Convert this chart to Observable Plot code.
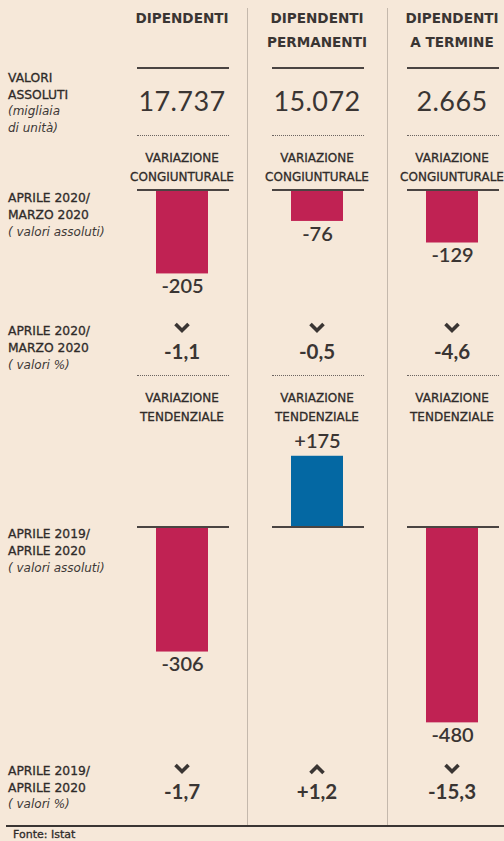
<!DOCTYPE html>
<html><head><meta charset="utf-8">
<script src="https://cdn.jsdelivr.net/npm/d3@7"></script>
<script src="https://cdn.jsdelivr.net/npm/@observablehq/plot@0.6"></script>
<style>
html,body{margin:0;padding:0;background:#f6e8d9;}
#page{position:relative;width:504px;height:841px;background:#f6e8d9;overflow:hidden;font-family:Lato, "Open Sans", sans-serif;color:#363230;}
.t{position:absolute;white-space:nowrap;line-height:1;}
.c{transform:translate(-50%,-50%);}
.l{transform:translateY(-50%);}
.hr{position:absolute;}
</style>
</head><body>
<div id="page"></div>
<script>
// ---- data ----
const categories = ["DIPENDENTI", "DIPENDENTI PERMANENTI", "DIPENDENTI A TERMINE"];
const headerLines = [["DIPENDENTI"], ["DIPENDENTI", "PERMANENTI"], ["DIPENDENTI", "A TERMINE"]];
const absoluteValues = ["17.737", "15.072", "2.665"];
const congiunturaleAbs = [-205, -76, -129];
const congiunturalePct = [-1.1, -0.5, -4.6];
const tendenzialeAbs = [-306, 175, -480];
const tendenzialePct = [-1.7, 1.2, -15.3];
const rowLabels = {
  valori: ["VALORI", "ASSOLUTI", "(migliaia", "di unità)"],
  congAbs: ["APRILE 2020/", "MARZO 2020", "( valori assoluti)"],
  congPct: ["APRILE 2020/", "MARZO 2020", "( valori %)"],
  tendAbs: ["APRILE 2019/", "APRILE 2020", "( valori assoluti)"],
  tendPct: ["APRILE 2019/", "APRILE 2020", "( valori %)"]
};
const sectionTitles = {cong: ["VARIAZIONE", "CONGIUNTURALE"], tend: ["VARIAZIONE", "TENDENZIALE"]};
const source = "Fonte: Istat";

// ---- layout helpers ----
const page = document.getElementById("page");
const RED = "#c02253", BLUE = "#0468a3";
const xBand = {type: "band", domain: categories, range: [114.5, 519.5], paddingInner: 0.615, paddingOuter: 0.3075, align: 0.5};
const xs = d3.scaleBand().domain(categories).range(xBand.range).paddingInner(xBand.paddingInner).paddingOuter(xBand.paddingOuter).align(0.5);
const cx = c => xs(c) + xs.bandwidth() / 2;

function txt(x, y, s, style, cls = "c") {
  const d = document.createElement("div");
  d.className = "t " + cls;
  d.textContent = s;
  d.style.left = x + "px"; d.style.top = y + "px";
  Object.assign(d.style, style || {});
  page.appendChild(d);
  return d;
}
function line(x1, x2, y, style) {
  const d = document.createElement("div");
  d.className = "hr";
  d.style.left = x1 + "px"; d.style.top = y + "px"; d.style.width = (x2 - x1) + "px";
  Object.assign(d.style, style);
  page.appendChild(d);
}
const SANS = "'DejaVu Sans', Verdana, sans-serif";
const labStyle = {fontFamily: SANS, fontSize: "12.3px", fontWeight: "400", color: "#2f2b29", WebkitTextStroke: "0.3px #2f2b29"};
const labItal = {fontFamily: SANS, fontSize: "12px", fontStyle: "italic", fontWeight: "400", color: "#3d3836"};
function rowLabel(lines, yFirst, step) {
  lines.forEach((s, i) => txt(8, yFirst + i * step, s, s.startsWith("(") || s.startsWith("di ") ? labItal : labStyle, "l"));
}

// vertical separators
[247, 387].forEach(x => {
  const d = document.createElement("div");
  d.className = "hr";
  Object.assign(d.style, {left: x + "px", top: "8px", width: "1px", height: "818px", background: "#c4b8ac"});
  page.appendChild(d);
});

const headStyle = {fontFamily: SANS, fontSize: "13.6px", fontWeight: "700", color: "#3a3533"};
const secStyle = {fontFamily: SANS, fontSize: "12px", fontWeight: "400", color: "#2f2b29", WebkitTextStroke: "0.3px #2f2b29"};
// headers
categories.forEach((c, i) => {
  headerLines[i].forEach((s, j) => txt(cx(c), 19 + j * 23.5, s, headStyle));
  line(cx(c) - 45, cx(c) + 47, 67, {borderTop: "2px solid #4a4442"});
  txt(cx(c), 100, absoluteValues[i], {fontSize: "27px", fontWeight: "400", letterSpacing: "0.4px", color: "#3a3533"});
  line(cx(c) - 45, cx(c) + 47, 135, {borderTop: "1px dotted #6b6461"});
  sectionTitles.cong.forEach((s, j) => txt(cx(c), 158 + j * 19, s, secStyle));
  line(cx(c) - 45, cx(c) + 47, 375, {borderTop: "1px dotted #6b6461"});
  sectionTitles.tend.forEach((s, j) => txt(cx(c), 398 + j * 19, s, secStyle));
});
rowLabel(rowLabels.valori, 78, 16.5);
rowLabel(rowLabels.congAbs, 198, 17);
rowLabel(rowLabels.congPct, 331, 17);
rowLabel(rowLabels.tendAbs, 534, 17);
rowLabel(rowLabels.tendPct, 771, 16.5);

// percent rows with chevrons
const fmtPct = v => (v > 0 ? "+" : "") + d3.format(".1f")(v).replace("−", "-").replace(".", ",");
function chevron(x, y, up) {
  const ns = "http://www.w3.org/2000/svg";
  const s = document.createElementNS(ns, "svg");
  s.setAttribute("width", 18); s.setAttribute("height", 12);
  Object.assign(s.style, {position: "absolute", left: (x - 9) + "px", top: (y - 6) + "px"});
  const p = document.createElementNS(ns, "polyline");
  p.setAttribute("points", up ? "2.5,10 9,3.5 15.5,10" : "2.5,2 9,8.5 15.5,2");
  p.setAttribute("fill", "none"); p.setAttribute("stroke", "#3a3533");
  p.setAttribute("stroke-width", "3.6"); p.setAttribute("stroke-linejoin", "miter");
  s.appendChild(p);
  page.appendChild(s);
}
categories.forEach((c, i) => {
  chevron(cx(c), 328, congiunturalePct[i] > 0);
  txt(cx(c), 351, fmtPct(congiunturalePct[i]), {fontSize: "20.5px", fontWeight: "700", color: "#3a3533"});
  chevron(cx(c), 769, tendenzialePct[i] > 0);
  txt(cx(c), 791, fmtPct(tendenzialePct[i]), {fontSize: "20.5px", fontWeight: "700", color: "#3a3533"});
});

// ---- bar sections with Plot ----
const K = 0.407; // px per unit
function barSection(values, top, height, baseline) {
  const data = categories.map((c, i) => ({cat: c, value: values[i]}));
  const fmt = v => (v > 0 ? "+" : "") + v;
  const plot = Plot.plot({
    width: 504, height, margin: 0,
    style: {background: "transparent", overflow: "visible"},
    x: {...xBand, axis: null},
    y: {domain: [-(height - baseline) / K, baseline / K], range: [height, 0], axis: null},
    marks: [
      Plot.barY(data, {x: "cat", y: "value", fill: d => d.value < 0 ? RED : BLUE}),
      Plot.text(data.filter(d => d.value < 0), {x: "cat", y: "value", text: d => fmt(d.value), dy: 13, fontSize: 20, fontWeight: 600, fill: "#3a3533", fontFamily: "Lato"}),
      Plot.text(data.filter(d => d.value > 0), {x: "cat", y: "value", text: d => fmt(d.value), dy: -15, fontSize: 20, fontWeight: 600, fill: "#3a3533", fontFamily: "Lato"})
    ]
  });
  plot.style.position = "absolute";
  plot.style.left = "0px"; plot.style.top = top + "px";
  page.appendChild(plot);
  categories.forEach(c => line(cx(c) - 45, cx(c) + 47, top + baseline - 1, {borderTop: "2px solid #4a4442"}));
}
barSection(congiunturaleAbs, 185, 120, 5);
barSection(tendenzialeAbs, 420, 330, 107);

// bottom rule and source
line(6, 504, 825, {borderTop: "2px solid #3a3533"});
txt(13, 834, source, {fontFamily: SANS, fontSize: "11px", fontWeight: "400", color: "#2f2b29", WebkitTextStroke: "0.3px #2f2b29"}, "l");
</script>
</body></html>
